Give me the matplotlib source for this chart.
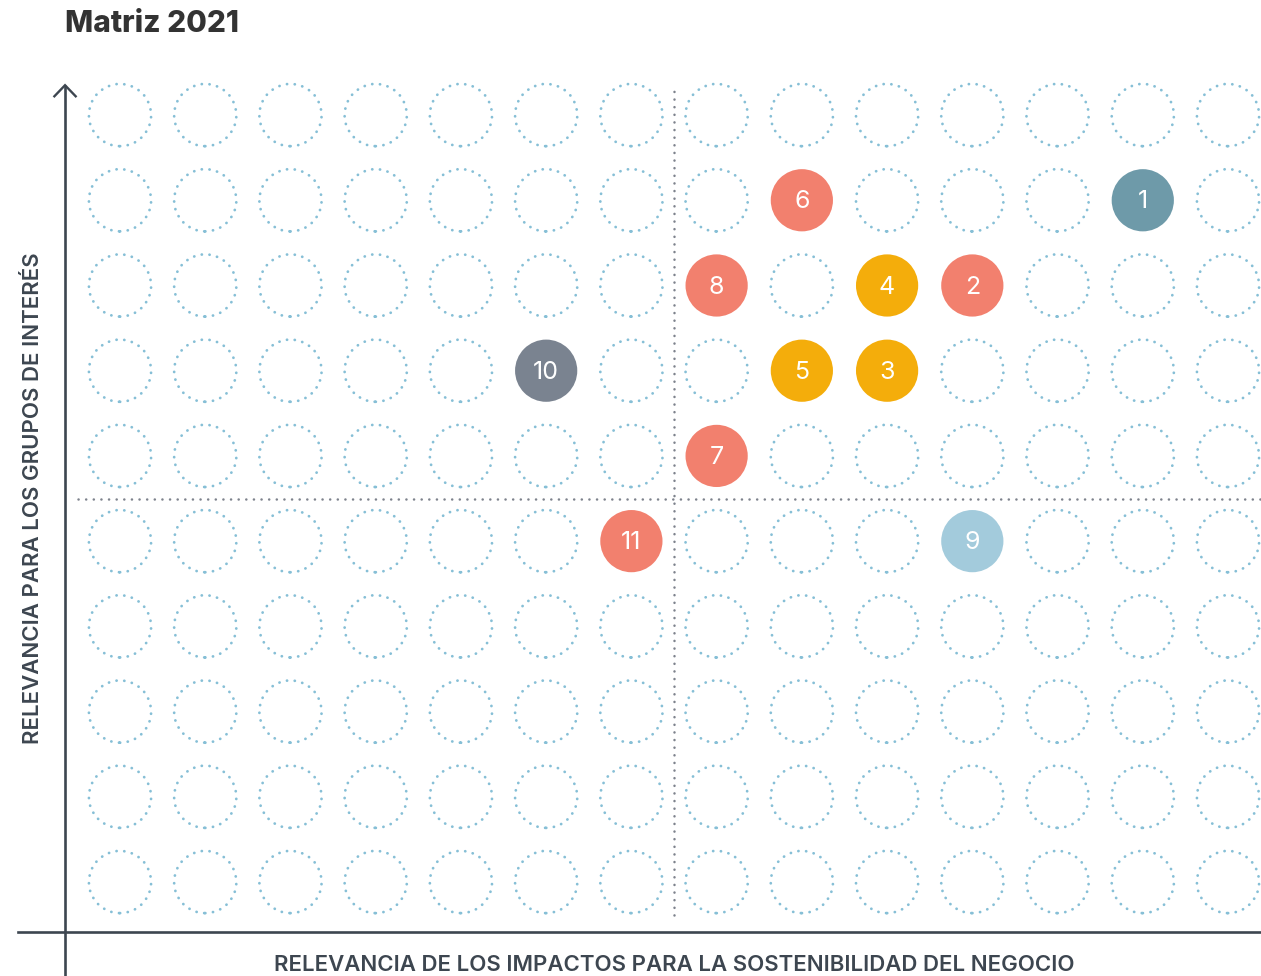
import matplotlib.pyplot as plt
from matplotlib.patches import Circle

plt.rcParams['font.family'] = ['Inter', 'DejaVu Sans']

# Cuadrícula de la matriz
n_cols = 14
n_filas = 10

# Temas materiales: posición en la cuadrícula (columna = impacto, fila = grupos de interés)
temas = ['1', '2', '3', '4', '5', '6', '7', '8', '9', '10', '11']
impacto = [13, 11, 10, 10, 9, 9, 8, 8, 11, 6, 7]
grupos = [9, 8, 7, 8, 7, 9, 6, 8, 5, 7, 5]
colores = ['#6e9aa9', '#f2806e', '#f4ad0b', '#f4ad0b', '#f4ad0b', '#f2806e',
           '#f2806e', '#f2806e', '#a3cbdc', '#7a8390', '#f2806e']

titulo = 'Matriz 2021'
eje_x = 'RELEVANCIA DE LOS IMPACTOS PARA LA SOSTENIBILIDAD DEL NEGOCIO'
eje_y = 'RELEVANCIA PARA LOS GRUPOS DE INTERÉS'

fig = plt.figure(figsize=(12.61, 9.76), dpi=100)
ax = fig.add_axes([0, 0, 1, 1])
ax.set_xlim(-0.408, 14.387)
ax.set_ylim(-0.103, 11.35)
ax.axis('off')

r = 0.365
oscuro = '#3d4650'
ocupadas = set(zip(impacto, grupos))

# círculos punteados de fondo
for c in range(1, n_cols + 1):
    for f in range(1, n_filas + 1):
        if (c, f) in ocupadas:
            continue
        ax.add_patch(Circle((c, f), r, fill=False, edgecolor='#86bfd6',
                            linewidth=2.0, linestyle=(0, (0.05, 2.75)),
                            capstyle='round'))

# divisiones de cuadrantes
ax.plot([7.5, 7.5], [0.613, 10.35], color='#7d828c', lw=1.8,
        linestyle=(0, (0.05, 3.0)), dash_capstyle='round')
ax.plot([0.51, 14.375], [5.5, 5.5], color='#7d828c', lw=1.8,
        linestyle=(0, (0.05, 3.0)), dash_capstyle='round')

# temas
for t, x, y, col in zip(temas, impacto, grupos, colores):
    ax.add_patch(Circle((x, y), r, facecolor=col, edgecolor='none', zorder=3))
    ax.text(x, y - 0.02, t, color='white', fontsize=18, fontweight='normal',
            ha='center', va='center', zorder=4)

# ejes con flecha
ax.plot([0.355, 0.355], [-0.2, 10.35], color=oscuro, lw=1.9, solid_capstyle='butt')
ax.plot([0.23, 0.355, 0.48], [10.22, 10.35, 10.22], color=oscuro, lw=1.7,
        solid_joinstyle='miter')
ax.plot([-0.197, 14.375], [0.413, 0.413], color=oscuro, lw=1.9)

ax.text(0.355, 11.07, titulo, fontsize=21.5, fontweight='heavy', color='#333333',
        ha='left', va='center')
ax.text(7.5, 0.03, eje_x, fontsize=16, fontweight='semibold', color=oscuro,
        ha='center', va='center')
ax.text(-0.021, 5.5, eje_y, fontsize=16, fontweight='semibold', color=oscuro,
        ha='center', va='center', rotation=90)

fig.savefig('out.png', dpi=100)
